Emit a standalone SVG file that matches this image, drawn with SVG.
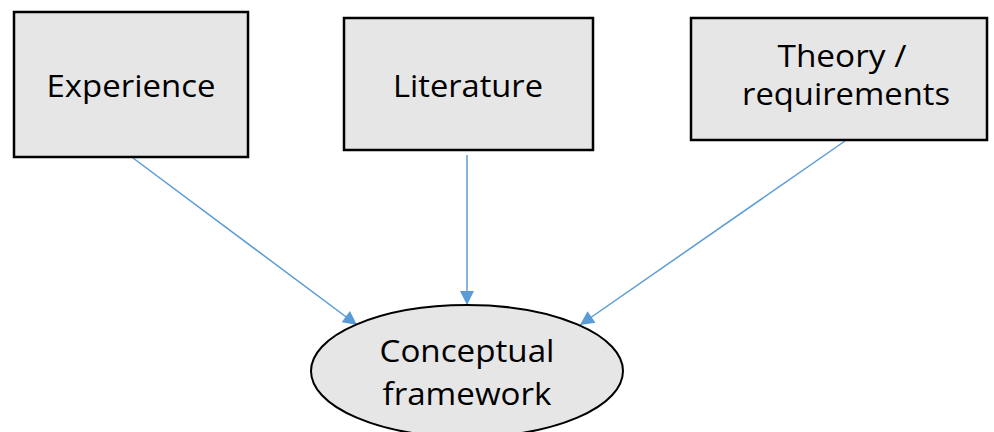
<svg xmlns="http://www.w3.org/2000/svg" width="994" height="432" viewBox="0 0 994 432">
<defs>
<marker id="arr" viewBox="0 0 10 10" refX="10" refY="5" markerWidth="15" markerHeight="14" markerUnits="userSpaceOnUse" orient="auto">
<path d="M0,0 L10,5 L0,10 z" fill="#5b9bd5"/>
</marker>
<style>
.box{fill:#e6e6e6;stroke:#000;stroke-width:2.5}
.t{font-family:"Open Sans","Liberation Sans",Arial,sans-serif;font-size:31px;fill:#000;text-anchor:middle}
.c{stroke:#5b9bd5;stroke-width:1.5;fill:none;marker-end:url(#arr)}
</style>
</defs>
<rect width="994" height="432" fill="#fff"/>
<g id="connectors">
<line class="c" x1="133" y1="158" x2="357" y2="325"/>
<line class="c" x1="467" y1="155" x2="467" y2="305"/>
<line class="c" x1="845" y1="141" x2="580" y2="325"/>
</g>
<g id="experience">
<rect class="box" x="14" y="12" width="234" height="145"/>
<text class="t" x="131" y="97" textLength="169" lengthAdjust="spacingAndGlyphs">Experience</text>
</g>
<g id="literature">
<rect class="box" x="344" y="18" width="249" height="132"/>
<text class="t" x="468" y="97" textLength="150" lengthAdjust="spacingAndGlyphs">Literature</text>
</g>
<g id="theory">
<rect class="box" x="691" y="18" width="296" height="122"/>
<text class="t" x="842" y="67" textLength="129" lengthAdjust="spacingAndGlyphs">Theory /</text>
<text class="t" x="846" y="105" textLength="208" lengthAdjust="spacingAndGlyphs">requirements</text>
</g>
<g id="framework">
<ellipse cx="467" cy="371" rx="156" ry="66" fill="#e6e6e6" stroke="#000" stroke-width="2"/>
<text class="t" x="467" y="362" textLength="175" lengthAdjust="spacingAndGlyphs">Conceptual</text>
<text class="t" x="467" y="405" textLength="169" lengthAdjust="spacingAndGlyphs">framework</text>
</g>
</svg>
